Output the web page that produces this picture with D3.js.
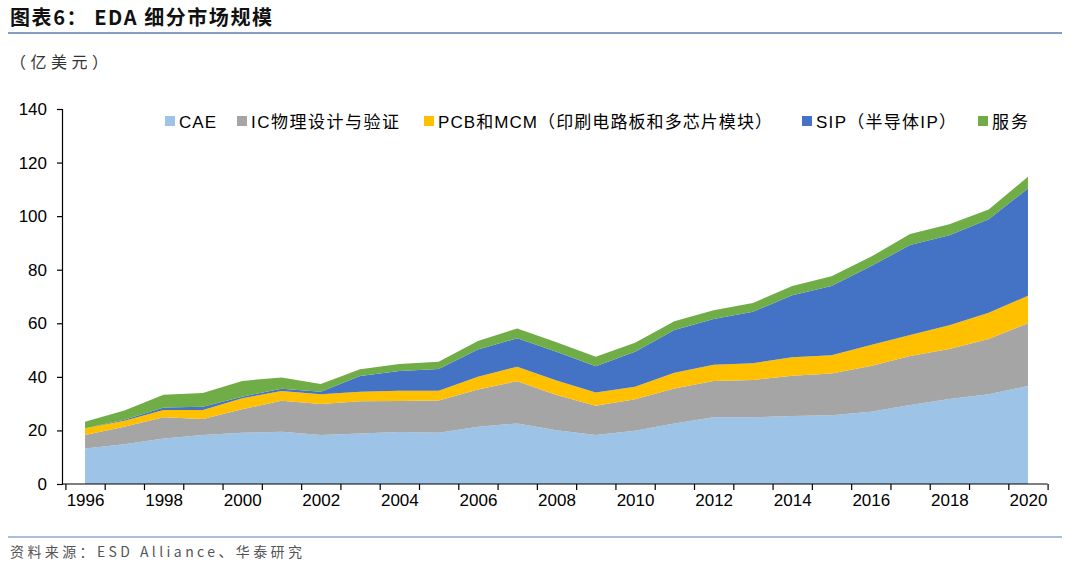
<!DOCTYPE html>
<html><head><meta charset="utf-8">
<script src="https://cdn.jsdelivr.net/npm/d3@7"></script>
<style>body{margin:0;background:#fff;}svg{display:block;font-family:Arial,"Liberation Sans","Noto Sans CJK SC",sans-serif;}</style>
</head><body><svg id="c" width="1080" height="572"></svg>
<script>
const years = d3.range(1996, 2021);
const seriesNames = ["CAE","IC物理设计与验证","PCB和MCM（印刷电路板和多芯片模块）","SIP（半导体IP）","服务"];
const colors = ["#9dc3e6","#a5a5a5","#ffc000","#4472c4","#70ad47"];
const cae = [13.3,14.8,17,18.3,19.1,19.5,18.3,18.9,19.4,19.1,21.4,22.6,20.1,18.3,19.9,22.6,24.9,24.9,25.4,25.7,27,29.5,31.7,33.5,36.6];
const ic = [5.0,6.6,7.9,6.0,8.8,11.6,11.6,12.0,11.6,12.1,13.9,15.8,13.1,10.9,11.7,13.1,13.6,13.9,15.0,15.6,17.1,18.3,18.7,20.6,23.4];
const pcb = [2.5,2.2,2.7,3.3,4.1,3.6,3.6,3.5,3.8,3.6,4.7,5.4,5.4,5.0,4.7,5.8,6.0,6.3,6.9,6.8,7.8,7.8,8.9,9.8,10.3];
const sip = [0,0.4,1.0,1.2,0.6,0.9,0.9,5.9,7.4,8.1,10.2,10.6,10.8,9.8,13.1,16.0,17.1,19.2,23.2,25.8,29.4,33.6,33.6,34.9,40.0];
const service = [2.4,3.4,4.7,5.2,5.9,4.2,2.9,2.5,2.6,2.7,3.2,3.7,3.5,3.5,3.3,3.3,3.3,3.3,3.4,3.7,3.5,4.1,4.1,3.7,4.4];
const yTicks = [0,20,40,60,80,100,120,140];
const xLabels = years.filter(y => y % 2 === 0);

const svg = d3.select("#c");
const table = years.map((y,i)=>({year:y, s0:cae[i], s1:ic[i], s2:pcb[i], s3:sip[i], s4:service[i]}));
const keys = ["s0","s1","s2","s3","s4"];
const stack = d3.stack().keys(keys)(table);

const x = d3.scaleLinear().domain([1995.5, 2020.5]).range([65.4, 1047.6]);
const y = d3.scaleLinear().domain([0,140]).range([484,109]);

svg.append("text").attr("x",10).attr("y",25).attr("font-size",20).attr("font-weight","bold").attr("fill","#111")
  .attr("font-family","'Noto Sans CJK SC',sans-serif").attr("textLength",262).attr("lengthAdjust","spacing")
  .text("图表6：  EDA 细分市场规模");
svg.append("line").attr("x1",8).attr("x2",1062).attr("y1",33).attr("y2",33).attr("stroke","#5b7db1").attr("stroke-width",1.5);
svg.append("text").attr("x",10).attr("y",68).attr("font-size",16).attr("fill","#333")
  .attr("font-family","'Noto Sans CJK SC',sans-serif").attr("textLength",98).attr("lengthAdjust","spacing").text("（亿美元）");

const area = d3.area().x((d,i)=>x(years[i])).y0(d=>y(d[0])).y1(d=>y(d[1]));
svg.selectAll("path.a").data(stack).join("path").attr("class","a")
  .attr("d",area).attr("fill",(d,i)=>colors[i]);

const ya = svg.append("g").attr("transform","translate(62,0)")
  .call(d3.axisLeft(y).tickValues(yTicks).tickSize(5).tickPadding(10));
ya.selectAll("text").attr("font-size",17).attr("fill","#000");
const xa = svg.append("g").attr("transform","translate(0,484)")
  .call(d3.axisBottom(x).tickValues(d3.range(1995.5,2021.5,1)).tickSize(6).tickFormat(""));
svg.append("g").attr("transform","translate(0,484)")
  .call(d3.axisBottom(x).tickValues(xLabels).tickSize(0).tickPadding(10).tickFormat(d3.format("d")))
  .call(g=>g.select(".domain").remove())
  .selectAll("text").attr("font-size",17).attr("fill","#000");
svg.selectAll(".domain, .tick line").attr("stroke","#000").attr("stroke-width",1.2);
xa.select(".domain").attr("d","M62,0H1047.6");

const legX = [165, 237, 424, 802, 978];
const legW = [37, 148, 334, 140, 36];
seriesNames.forEach((n,i)=>{
  svg.append("rect").attr("x",legX[i]).attr("y",116).attr("width",10).attr("height",10).attr("fill",colors[i]);
  svg.append("text").attr("x",legX[i]+14).attr("y",128).attr("font-size",17).attr("fill","#000")
    .attr("textLength",legW[i]).attr("lengthAdjust","spacing").text(n);
});

svg.append("line").attr("x1",8).attr("x2",1062).attr("y1",537).attr("y2",537).attr("stroke","#5b7db1").attr("stroke-width",1);
svg.append("text").attr("x",10).attr("y",557).attr("font-size",14).attr("fill","#555")
  .attr("font-family","'Noto Sans CJK SC',sans-serif").attr("textLength",292).attr("lengthAdjust","spacing")
  .text("资料来源：ESD Alliance、华泰研究");
</script></body></html>
